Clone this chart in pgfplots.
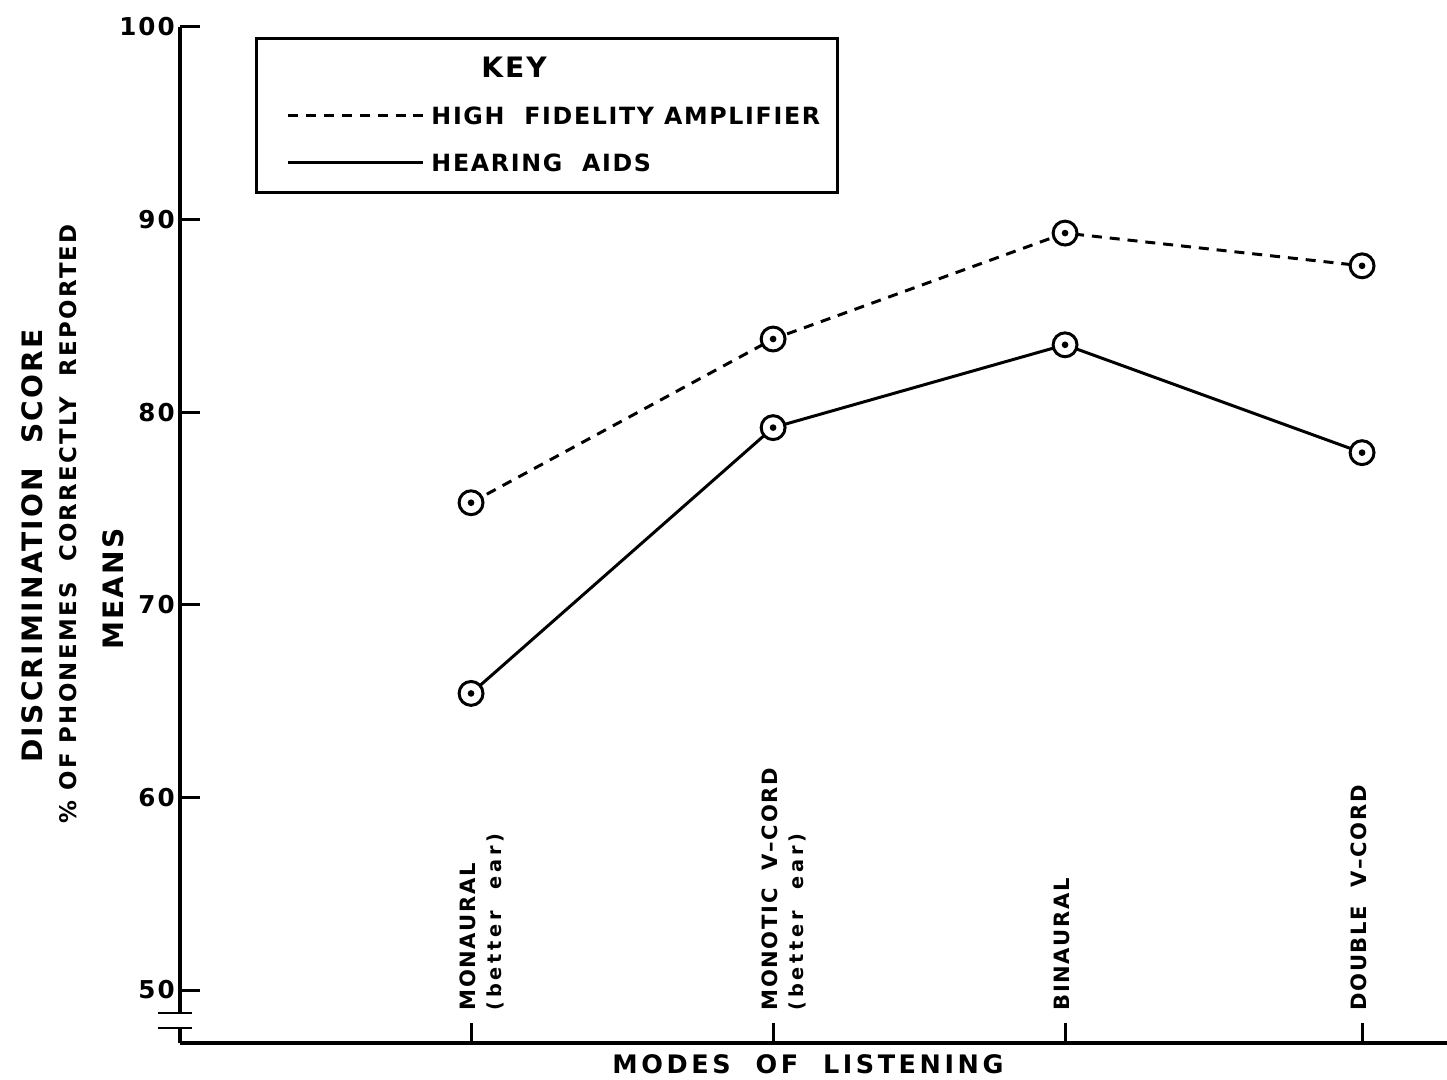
\documentclass[border=0pt]{standalone}
\usepackage{fontspec}
\setmainfont{DejaVu Sans}[LetterSpace=8]
\usepackage{pgfplots}
\pgfplotsset{compat=1.18}

% circle with a dot in the middle
\pgfdeclareplotmark{odot}{%
  \pgfsetfillcolor{white}%
  \pgfpathcircle{\pgfpointorigin}{\pgfplotmarksize}%
  \pgfusepathqfillstroke
  \pgfsetfillcolor{black}%
  \pgfpathcircle{\pgfpointorigin}{0.28\pgfplotmarksize}%
  \pgfusepathqfill
}
\newcommand{\fs}[1]{\fontsize{#1}{#1}\selectfont}
\newcommand{\lc}[1]{\hbox{\fs{11}\addfontfeatures{LetterSpace=20}#1}}

\begin{document}
\begin{tikzpicture}
\begin{axis}[
    scale only axis,
    width=25.34cm, height=20.32cm,
    xmin=0.02, xmax=4.286,
    ymin=47.25, ymax=100,
    axis x line*=bottom, axis y line*=left,
    axis line style={line width=1.9pt, -},
    tick style={line width=1.7pt, black},
    tick align=inside,
    major tick length=0.4cm,
    xtick={1,2.017,3,4},
    xticklabels={
      {\vtop{\baselineskip=14.5pt\hbox{MONAURAL}\lc{(better\ \ ear)}}},
      {\vtop{\baselineskip=14.5pt\hbox{MONOTIC\ \ V--CORD}\lc{(better\ \ ear)}}},
      BINAURAL,
      DOUBLE\ \ V--CORD},
    xticklabel style={rotate=90, anchor=mid west, inner sep=0pt, font=\bfseries\fs{12}},
    xticklabel shift=-0.64cm,
    ytick={50,60,70,80,90,100},
    yticklabel style={inner sep=0pt, font=\bfseries\fs{14}},
    yticklabel shift=0.1cm,
    /pgf/number format/assume math mode=true,
    clip=false,
    legend cell align=left,
    legend image code/.code={\draw[#1, mark=none] (0cm,0cm) -- (2.7cm,0cm);},
    legend style={at={(0.0592,0.990)}, anchor=north west,
      draw=black, line width=1.7pt,
      inner xsep=0.6cm, inner ysep=0.28cm,
      row sep=0.3cm, column sep=0.14cm,
      font=\bfseries\fs{13.5}\addfontfeatures{LetterSpace=7},
      nodes={inner sep=0pt, text height=0.5cm, text depth=0.14cm}},
]
\addlegendimage{empty legend}
\addlegendentry{\fs{16}\hspace*{1cm}KEY}

% high fidelity amplifier
\addplot[black, line width=1.7pt, dash pattern=on 5.7pt off 4.5pt,
  mark=odot, mark size=6.8pt, mark options={solid, line width=1.7pt}]
  coordinates {(1,75.3)(2.017,83.8)(3,89.3)(4,87.6)};
\addlegendentry{HIGH\ \ FIDELITY AMPLIFIER\hspace*{-0.25cm}}

% hearing aids
\addplot[black, line width=1.7pt,
  mark=odot, mark size=6.8pt, mark options={solid, line width=1.7pt}]
  coordinates {(1,65.4)(2.017,79.2)(3,83.5)(4,77.9)};
\addlegendentry{HEARING\ \ AIDS}
\end{axis}

% axis break
\fill[white] (-0.2,0.32) rectangle (0.2,0.58);
\draw[line width=1.7pt] (-0.44,0.6) -- (0.24,0.6) (-0.44,0.3) -- (0.24,0.3);

% axis titles
\node[rotate=90, font=\bfseries\fs{16}] at (-2.96,9.94) {DISCRIMINATION\ \ SCORE};
\node[rotate=90, font=\bfseries\fs{13}\addfontfeatures{LetterSpace=10}] at (-2.24,10.38) {\%\ OF PHONEMES\ \ CORRECTLY\ \ REPORTED};
\node[rotate=90, font=\bfseries\fs{16}] at (-1.34,9.08) {MEANS};
\node[font=\bfseries\fs{14.5}\addfontfeatures{LetterSpace=14}] at (12.56,-0.42) {MODES\ \ OF\ \ LISTENING};

\pgfresetboundingbox
\path[use as bounding box] (-3.6,-0.72) rectangle (25.34,20.86);
\end{tikzpicture}
\end{document}
